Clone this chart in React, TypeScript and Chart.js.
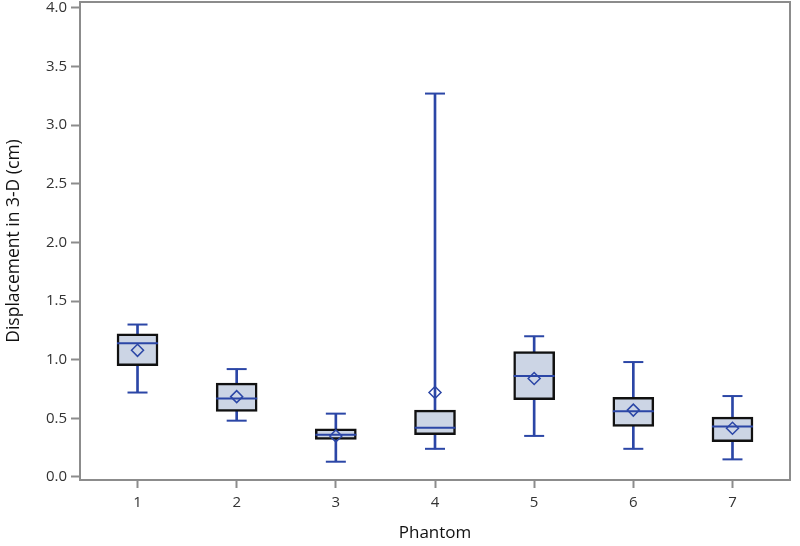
import React, { useEffect, useRef } from "react";
import { Chart, registerables } from "chart.js";

Chart.register(...registerables);

const categories = [1, 2, 3, 4, 5, 6, 7];
const whiskerLow = [0.72, 0.48, 0.13, 0.24, 0.35, 0.24, 0.15];
const q1 = [0.95, 0.56, 0.32, 0.36, 0.66, 0.43, 0.30];
const median = [1.14, 0.67, 0.36, 0.42, 0.86, 0.56, 0.43];
const q3 = [1.22, 0.80, 0.41, 0.57, 1.07, 0.68, 0.51];
const whiskerHigh = [1.30, 0.92, 0.54, 3.27, 1.20, 0.98, 0.69];
const mean = [1.08, 0.685, 0.35, 0.72, 0.84, 0.57, 0.415];
const yTicks = [0, 0.5, 1, 1.5, 2, 2.5, 3, 3.5, 4];

const BLUE = "#2b46a6";
const AXIS = "#8c8c8c";
const TEXT = "#333333";
const FONT = "'Open Sans', 'DejaVu Sans', sans-serif";

const frame = {
  id: "frame",
  beforeDatasetsDraw(chart: any) {
    const { ctx, chartArea } = chart;
    ctx.save();
    ctx.strokeStyle = AXIS;
    ctx.lineWidth = 2;
    ctx.strokeRect(chartArea.left, chartArea.top, chartArea.right - chartArea.left, chartArea.bottom - chartArea.top);
    ctx.restore();
  },
};

export default function App() {
  const ref = useRef<HTMLCanvasElement | null>(null);
  useEffect(() => {
    if (!ref.current) return;
    const chart = new Chart(ref.current, {
      type: "bar",
      data: {
        datasets: [
          {
            type: "scatter",
            label: "mean",
            data: categories.map((c, i) => ({ x: c, y: mean[i] })),
            pointStyle: "rectRot",
            pointRadius: 6,
            backgroundColor: "rgba(0,0,0,0)",
            borderColor: BLUE,
            borderWidth: 1.5,
            order: 1,
          } as any,
          {
            type: "scatter",
            label: "median",
            data: categories.map((c, i) => ({ x: c, y: median[i] })),
            pointStyle: "line",
            pointRadius: 20.5,
            borderColor: BLUE,
            borderWidth: 2,
            order: 2,
          } as any,
          {
            type: "scatter",
            label: "caps",
            data: [
              ...categories.map((c, i) => ({ x: c, y: whiskerLow[i] })),
              ...categories.map((c, i) => ({ x: c, y: whiskerHigh[i] })),
            ],
            pointStyle: "line",
            pointRadius: 10,
            borderColor: BLUE,
            borderWidth: 2,
            order: 3,
          } as any,
          {
            type: "bar",
            label: "box",
            data: categories.map((c, i) => ({ x: c, y: [q1[i], q3[i]] })),
            backgroundColor: "#ccd5e5",
            borderColor: "#111111",
            borderWidth: 2.5,
            borderSkipped: false,
            barThickness: 41,
            grouped: false,
            order: 4,
          } as any,
          {
            type: "bar",
            label: "whisker",
            data: categories.map((c, i) => ({ x: c, y: [whiskerLow[i], whiskerHigh[i]] })),
            backgroundColor: BLUE,
            borderWidth: 0,
            barThickness: 2,
            grouped: false,
            order: 5,
          } as any,
        ],
      },
      options: {
        animation: false,
        responsive: true,
        maintainAspectRatio: false,
        layout: { autoPadding: false, padding: { left: 0, right: 10, top: 2, bottom: 3 } },
        plugins: { legend: { display: false }, tooltip: { enabled: false } },
        scales: {
          x: {
            type: "linear",
            offset: false,
            min: 0.42,
            max: 7.58,
            afterBuildTicks: (s: any) => {
              s.ticks = categories.map((v) => ({ value: v }));
            },
            afterFit: (s: any) => {
              s.height = 63;
              s.paddingLeft = 0;
              s.paddingRight = 0;
            },
            grid: { offset: false, drawOnChartArea: false, drawTicks: true, tickLength: 8, tickColor: AXIS, tickWidth: 2 },
            border: { display: false },
            ticks: {
              color: TEXT,
              font: { family: FONT, size: 15 },
              padding: 6,
              callback: (v: any) => String(v),
            },
            title: {
              display: true,
              text: "Phantom",
              color: "#111",
              font: { family: FONT, size: 17 },
              padding: { top: 4, bottom: 0 },
            },
          },
          y: {
            type: "linear",
            min: -0.026,
            max: 4.051,
            afterBuildTicks: (s: any) => {
              s.ticks = yTicks.map((v) => ({ value: v }));
            },
            afterFit: (s: any) => {
              s.width = 80;
              s.paddingTop = 0;
              s.paddingBottom = 0;
            },
            grid: { drawOnChartArea: false, drawTicks: true, tickLength: 9, tickColor: AXIS, tickWidth: 2 },
            border: { display: false },
            ticks: {
              color: TEXT,
              font: { family: FONT, size: 15 },
              padding: 4,
              callback: (v: any) => Number(v).toFixed(1),
            },
            title: {
              display: true,
              text: "Displacement in 3-D (cm)",
              color: "#111",
              font: { family: FONT, size: 17.5 },
              padding: { top: 4, bottom: 0 },
            },
          },
        },
      },
      plugins: [frame],
    } as any);
    return () => chart.destroy();
  }, []);
  return (
    <div style={{ position: "fixed", left: 0, top: 0, width: 800, height: 546, background: "#fff" }}>
      <canvas ref={ref} />
    </div>
  );
}
